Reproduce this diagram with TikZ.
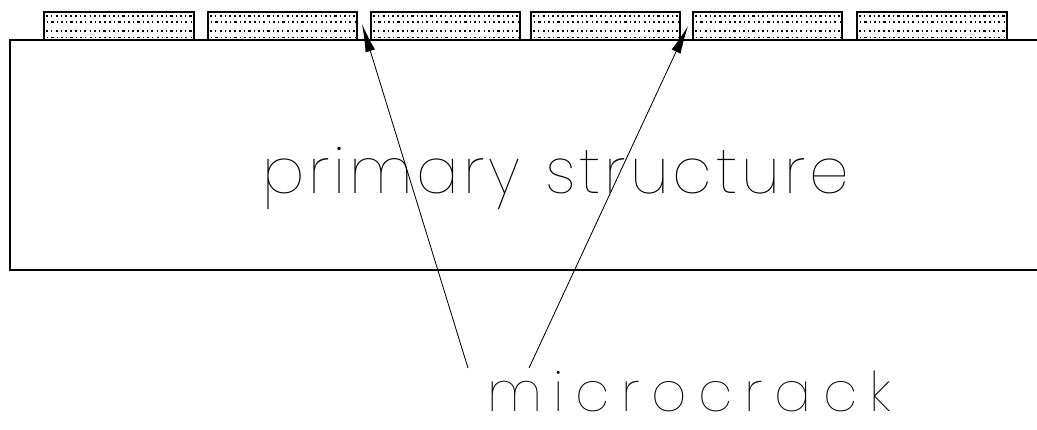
\documentclass[tikz,border=0pt]{standalone}
\usepackage{fontspec}
\newfontfamily\cadfont{Poppins Thin}
\usetikzlibrary{arrows.meta}

\tikzset{
  tile/.style={line width=1.1pt},
  dotrow/.style={line width=1pt,dash pattern=on 1.6pt off 2.2pt on 0.8pt off 2.2pt},
  crack/.style={line width=0.6pt,-{Latex[length=20pt,width=7pt]}},
  cadtext/.style={inner sep=0pt,text depth=0pt,font=\cadfont}
}

\begin{document}
\begin{tikzpicture}[x=0.025cm,y=-0.025cm]
  \useasboundingbox (0,0) rectangle (1037,429);
  \draw[line width=1.2pt] (1037,40) -- (10,40) -- (10,270) -- (1037,270);
  \foreach \xa/\xb [count=\i] in {44/194,208/357,371/520,531/680,693/842,857/1007}{
    \draw[tile] (\xa,12) rectangle (\xb,40);
    \foreach \yy/\off in {16/0,22/3,31/0,37.5/3}
      \draw[dotrow,dash phase=\off pt] (\xa+2,\yy) -- (\xb-2,\yy);
  }
  \node[cadtext,anchor=base west] (prim) at (262,193)
    {\fontsize{45}{45}\selectfont\addfontfeature{LetterSpace=6}primary\hspace{0.4em}structure};
  \node[cadtext,anchor=base west] (mcrack) at (487,411)
    {\fontsize{39}{39}\selectfont\addfontfeature{LetterSpace=21}microcrack};
  \coordinate (tailA) at (468,368);
  \coordinate (tailB) at (529,368);
  \coordinate (crackA) at (362,24);
  \coordinate (crackB) at (688,26);
  \draw[crack] (tailA) -- (crackA);
  \draw[crack] (tailB) -- (crackB);
\end{tikzpicture}
\end{document}
